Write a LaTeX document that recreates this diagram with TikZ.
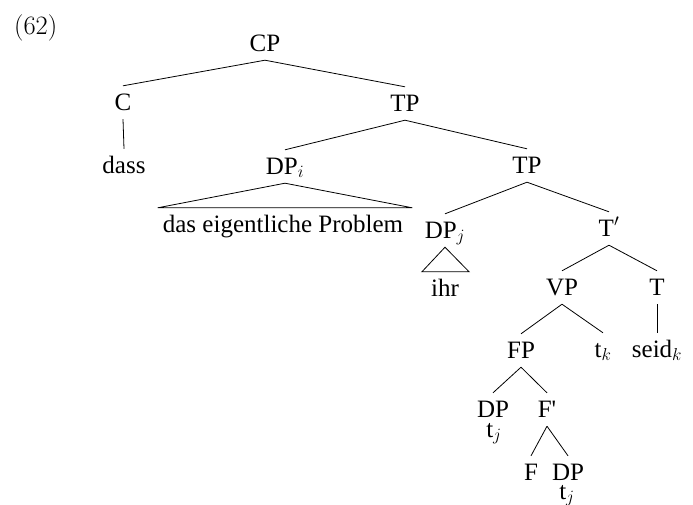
\documentclass[tikz,border=0pt]{standalone}
\usepackage{fontspec}
\newfontfamily\treefont{Liberation Serif}

\begin{document}
\begin{tikzpicture}[
    x=1pt, y=-1pt,
    lbl/.style={font=\treefont\fontsize{25}{28}\selectfont, anchor=base,
        inner sep=2pt, text height=22pt, text depth=7pt},
    trace/.style={font=\treefont\fontsize{25}{28}\selectfont, anchor=base, inner sep=0pt},
    branch/.style={black, line width=0.8pt},
    ]
\useasboundingbox (0,0) rectangle (693,504);

\node[anchor=base west, inner sep=0pt, font=\fontsize{26.5}{30}\selectfont] (exnum) at (14,34) {(62)};

% upper part
\node[lbl] (cp) at (265,51) {CP};
\node[lbl] (c) at (123,110) {C};
\node[lbl] (tpa) at (405,111) {TP};
\node[lbl] (dass) at (124,173) {dass};
\node[lbl] (dpi) at (285,174) {DP$_i$};
\node[lbl] (tpb) at (527,173) {TP};
\node[lbl] (prob) at (283,232) {das eigentliche Problem};

% middle part
\node[lbl] (dpj) at (445,238) {DP$_j$};
\node[lbl] (tbar) at (609,236) {T$'$};
\node[lbl] (ihr) at (445,296) {ihr};
\node[lbl] (vp) at (562,295) {VP};
\node[lbl] (t) at (657,295) {T};
\node[lbl] (fp) at (521,358) {FP};
\node[lbl] (tk) at (603,357) {t$_k$};
\node[lbl] (seid) at (657,357) {seid$_k$};

% lower part
\node[lbl, text depth=0pt] (dpa) at (493,417) {DP};
\node[trace] (tja) at (494,437) {t$_j$};
\node[lbl] (fbar) at (547,417) {F'};
\node[lbl] (f) at (531,480) {F};
\node[lbl, text depth=0pt] (dpb) at (568,480) {DP};
\node[trace] (tjb) at (567,499) {t$_j$};

\draw[branch] (cp.south) -- (c.north);
\draw[branch] (cp.south) -- (tpa.north);
\draw[branch] (c.south) -- (dass.north);
\draw[branch] (tpa.south) -- (dpi.north);
\draw[branch] (tpa.south) -- (tpb.north);
\draw[branch] (dpi.south) -- ([xshift=-3pt]prob.north west) -- ([xshift=7pt]prob.north east) -- cycle;
\draw[branch] (tpb.south) -- (dpj.north);
\draw[branch] (tpb.south) -- (tbar.north);
\draw[branch] (dpj.south) -- ([xshift=-7pt]ihr.north west) -- ([xshift=8pt]ihr.north east) -- cycle;
\draw[branch] (tbar.south) -- (vp.north);
\draw[branch] (tbar.south) -- (t.north);
\draw[branch] (vp.south) -- (fp.north);
\draw[branch] (vp.south) -- (tk.north);
\draw[branch] (t.south) -- (seid.north);
\draw[branch] (fp.south) -- (dpa.north);
\draw[branch] (fp.south) -- (fbar.north);
\draw[branch] (fbar.south) -- (f.north);
\draw[branch] (fbar.south) -- (dpb.north);

\end{tikzpicture}
\end{document}
